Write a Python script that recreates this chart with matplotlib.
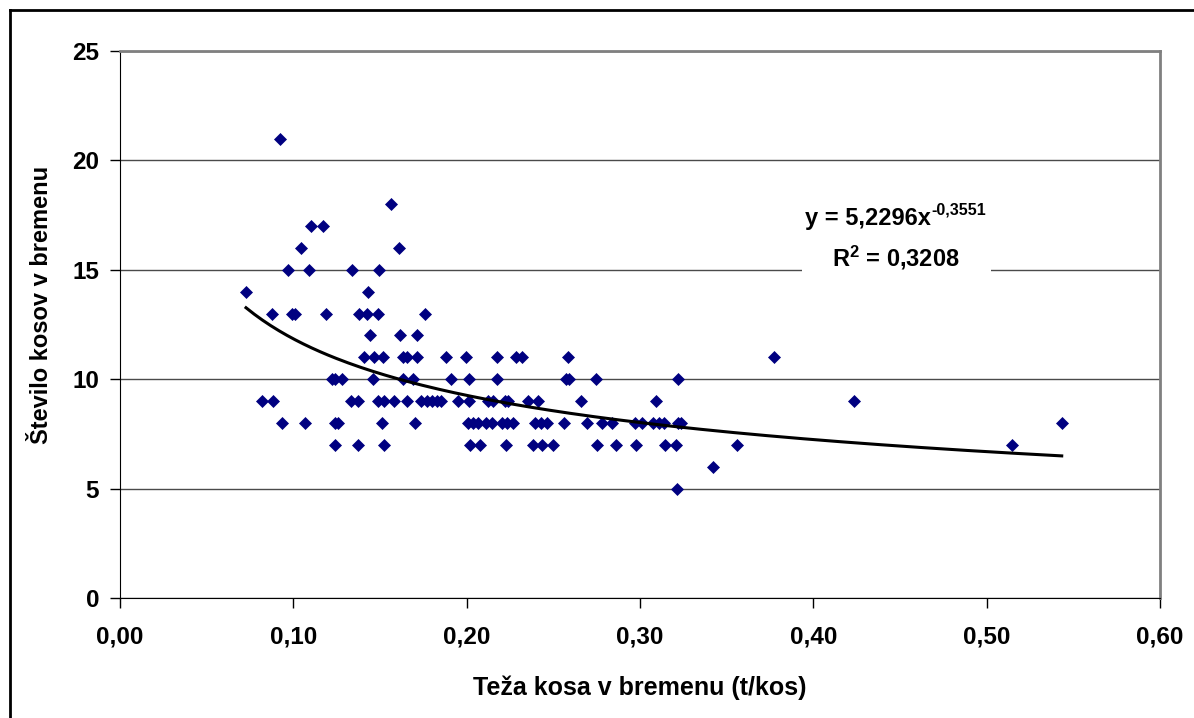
import matplotlib
matplotlib.use("Agg")
import matplotlib.pyplot as plt
import numpy as np
from matplotlib.lines import Line2D
from matplotlib.patches import Rectangle
from matplotlib.transforms import offset_copy

plt.rcParams['font.family'] = ['Liberation Sans', 'DejaVu Sans']
plt.rcParams['mathtext.fontset'] = 'custom'
plt.rcParams['mathtext.rm'] = 'Liberation Sans:bold'
plt.rcParams['mathtext.it'] = 'Liberation Sans:bold'
plt.rcParams['mathtext.bf'] = 'Liberation Sans:bold'

# ---- data ----
x_vals = [
    0.0923,
    0.1562,
    0.110, 0.117,
    0.1044, 0.161,
    0.0971, 0.1092, 0.1338, 0.1496,
    0.0727, 0.1429,
    0.0875, 0.099, 0.101, 0.1187, 0.138, 0.1423, 0.1487, 0.176,
    0.1442, 0.1617, 0.1712,
    0.141, 0.1465, 0.1517, 0.1635, 0.1654, 0.1712, 0.188, 0.1994, 0.2173, 0.2283, 0.2321, 0.2583, 0.3773,
    0.1221, 0.124, 0.1283, 0.1458, 0.1635, 0.1692, 0.1908, 0.2013, 0.2173, 0.2573, 0.259, 0.2744, 0.3221,
    0.0819, 0.0885, 0.1333, 0.1375, 0.149, 0.1523, 0.1581, 0.1654, 0.1735, 0.177, 0.1798, 0.1827, 0.185,
    0.1952, 0.2013, 0.2125, 0.215, 0.2221, 0.224, 0.2352, 0.2413, 0.266, 0.309, 0.4235,
    0.0933, 0.1065, 0.124, 0.126, 0.1513, 0.1702, 0.201, 0.2038, 0.2067, 0.2112, 0.2144, 0.2202, 0.2231,
    0.2269, 0.2394, 0.2427, 0.2462, 0.2562, 0.2692, 0.2779, 0.2837, 0.2971, 0.3013, 0.3077, 0.3112, 0.314,
    0.3221, 0.3237, 0.5433,
    0.1242, 0.1375, 0.1521, 0.2019, 0.2077, 0.2227, 0.2385, 0.2437, 0.25, 0.275, 0.2862, 0.2977, 0.3144,
    0.3208, 0.3558, 0.5144,
    0.342,
    0.3212,
]
y_vals = (
    [21] * 1 + [18] * 1 + [17] * 2 + [16] * 2 + [15] * 4 + [14] * 2 + [13] * 8 + [12] * 3
    + [11] * 13 + [10] * 13 + [9] * 24 + [8] * 29 + [7] * 16 + [6] * 1 + [5] * 1
)

trend_a = 5.2296
trend_b = -0.3551
eq_base = 'y = 5,2296x'
eq_exp = '-0,3551'
r2_text = 'R$^{2}$ = 0,3208'

x_ticks = [0.0, 0.1, 0.2, 0.3, 0.4, 0.5, 0.6]
x_tick_labels = ['0,00', '0,10', '0,20', '0,30', '0,40', '0,50', '0,60']
y_ticks = [0, 5, 10, 15, 20, 25]
x_label = 'Teža kosa v bremenu (t/kos)'
y_label = 'Število kosov v bremenu'

# ---- figure ----
fig = plt.figure(figsize=(11.94, 7.18), dpi=100)
W, H = 1194, 718
ax = fig.add_axes([120 / W, 1 - 598 / H, 1040 / W, 547 / H])

ax.set_xlim(0, 0.6)
ax.set_ylim(0, 25)

ax.yaxis.grid(True, color='#4a4a4a', linewidth=1.0)
ax.set_axisbelow(True)

ax.plot(x_vals, y_vals, linestyle='none', marker='D', markersize=6.6,
        markerfacecolor='#000080', markeredgecolor='#000080', markeredgewidth=0.5, zorder=3)

xt = np.linspace(min(x_vals), max(x_vals), 200)
ax.plot(xt, trend_a * xt ** trend_b, color='black', linewidth=2.2, zorder=4)

# trendline label (white box, equation with superscript, R^2)
ax.add_patch(Rectangle((0.3935, 14.0), 0.109, 5.2, facecolor='white', edgecolor='none', zorder=5))
label_cx, eq_y, r2_y = 0.4474, 17.33, 15.55
t_base = ax.text(label_cx, eq_y, eq_base, ha='left', va='center', fontsize=17,
                 fontweight='bold', zorder=6)
t_exp = ax.annotate(eq_exp, xy=(label_cx, eq_y), xycoords='data', xytext=(0, 0),
                    textcoords='offset pixels', ha='left', va='center', fontsize=11.5,
                    fontweight='bold', zorder=6)
ax.text(label_cx, r2_y, r2_text, ha='center', va='center', fontsize=17,
        fontweight='bold', zorder=6)

fig.canvas.draw()
r = fig.canvas.get_renderer()
wb = t_base.get_window_extent(r).width
we = t_exp.get_window_extent(r).width
total = wb + we + 1
t_base.set_transform(offset_copy(ax.transData, fig=fig, x=-total / 2, y=0, units='dots'))
t_exp.xyann = (-total / 2 + wb + 1, 9)

ax.set_xticks(x_ticks)
ax.set_xticklabels(x_tick_labels)
ax.set_yticks(y_ticks)
for lab in ax.get_xticklabels() + ax.get_yticklabels():
    lab.set_fontweight('bold')
ax.tick_params(axis='both', labelsize=17.5, direction='out', length=7, width=1, color='black')
ax.tick_params(axis='x', pad=13)
ax.tick_params(axis='y', pad=8)

ax.spines['left'].set_color('black')
ax.spines['bottom'].set_color('black')
ax.spines['top'].set_color('#808080')
ax.spines['right'].set_color('#808080')
ax.spines['top'].set_linewidth(2)
ax.spines['right'].set_linewidth(2)

ax.set_xlabel(x_label, fontsize=18, fontweight='bold')
ax.xaxis.set_label_coords(0.5, -(688 - 598) / 547)
ax.xaxis.label.set_va('center')
ax.set_ylabel(y_label, fontsize=17, fontweight='bold')
ax.yaxis.set_label_coords(-(120 - 42) / 1040, (598 - 305) / 547)
ax.yaxis.label.set_va('center')

# outer chart border
fig.add_artist(Line2D([10 / W, 10 / W], [0, 1 - 10 / H], transform=fig.transFigure,
                      color='black', linewidth=2))
fig.add_artist(Line2D([10 / W, 1], [1 - 10 / H, 1 - 10 / H], transform=fig.transFigure,
                      color='black', linewidth=2))

fig.savefig('out.png', dpi=100, facecolor='white')
